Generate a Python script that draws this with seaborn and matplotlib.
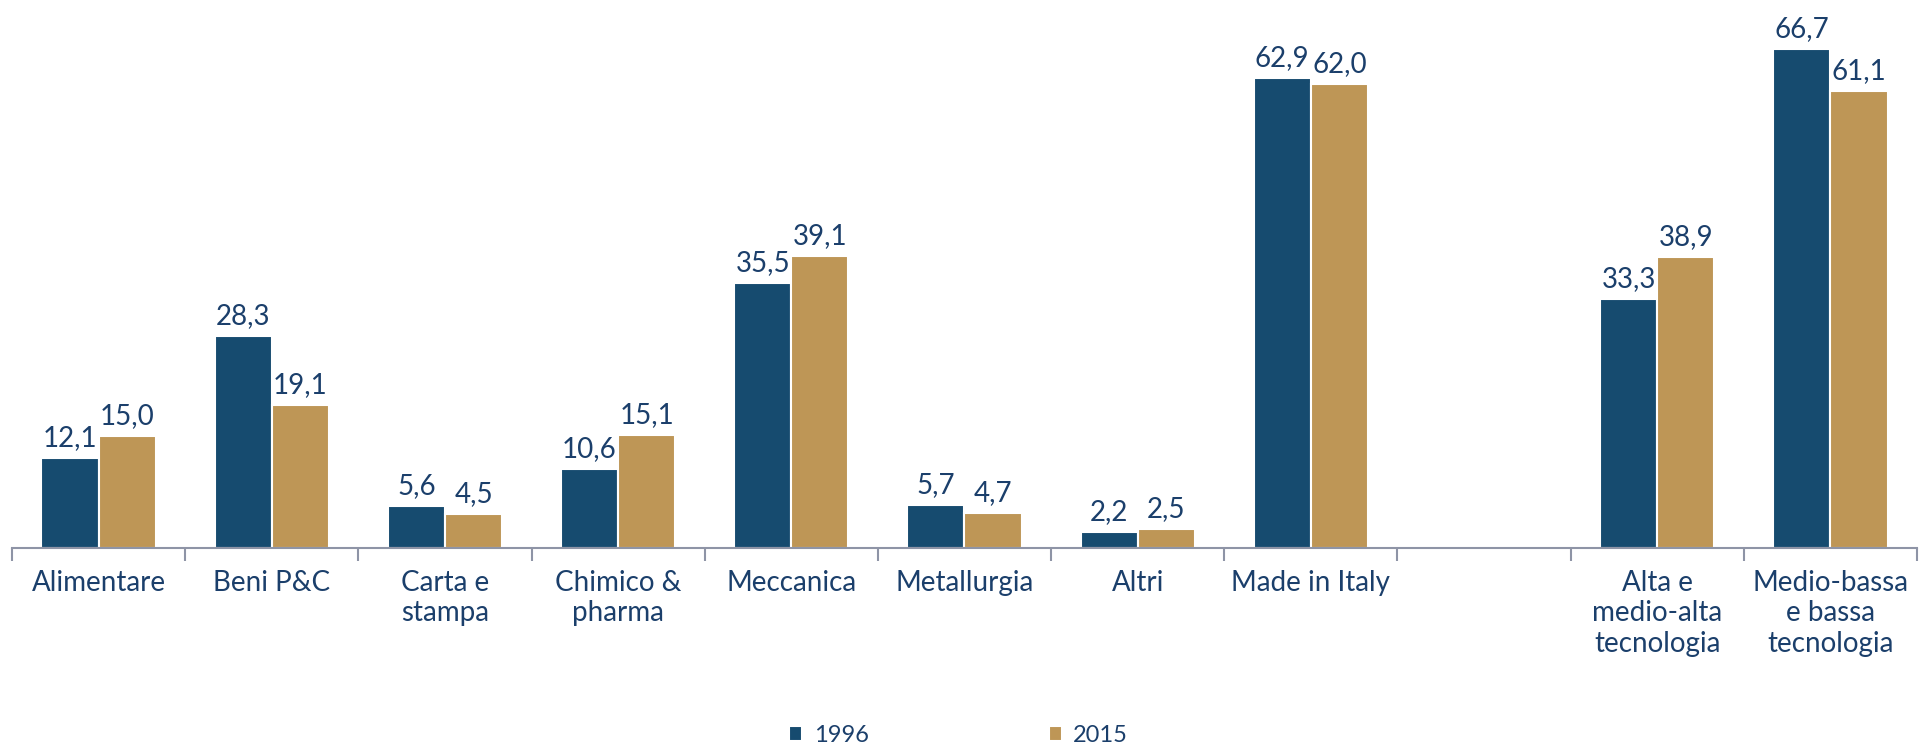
import pandas as pd
import matplotlib.pyplot as plt
import seaborn as sns

categories = ["Alimentare", "Beni P&C", "Carta e\nstampa", "Chimico &\npharma",
              "Meccanica", "Metallurgia", "Altri", "Made in Italy", " ",
              "Alta e\nmedio-alta\ntecnologia", "Medio-bassa\ne bassa\ntecnologia"]
values_1996 = [12.1, 28.3, 5.6, 10.6, 35.5, 5.7, 2.2, 62.9, None, 33.3, 66.7]
values_2015 = [15.0, 19.1, 4.5, 15.1, 39.1, 4.7, 2.5, 62.0, None, 38.9, 61.1]
years = ["1996", "2015"]

BLUE = "#164b6f"
GOLD = "#be9656"
TEXT = "#1b3f6b"
AXIS = "#8e94a6"
FS = 20

rows = []
for cat, a, b in zip(categories, values_1996, values_2015):
    if a is not None:
        rows.append({"cat": cat, "anno": years[0], "val": a})
        rows.append({"cat": cat, "anno": years[1], "val": b})
df = pd.DataFrame(rows)

sns.set_style("white")
plt.rcParams["font.family"] = ["Lato", "DejaVu Sans"]

fig = plt.figure(figsize=(19.33, 7.45), dpi=100)
ax = fig.add_axes([12 / 1933, (745 - 548) / 745, 1905 / 1933, 548 / 745])

sns.barplot(data=df, x="cat", y="val", hue="anno", order=categories,
            hue_order=years, palette=[BLUE, GOLD], width=0.66,
            edgecolor="white", linewidth=1.5, saturation=1, ax=ax)

for cont in ax.containers:
    labels = [f"{v:.1f}".replace(".", ",") for v in cont.datavalues]
    ax.bar_label(cont, labels=labels, padding=5, fontsize=FS, color=TEXT)

ax.set_xlim(-0.5, len(categories) - 0.5)
ax.set_ylim(0, 73.3)
ax.set_xlabel("")
ax.set_ylabel("")
ax.set_yticks([])
for side in ["top", "right", "left"]:
    ax.spines[side].set_visible(False)
ax.spines["bottom"].set_color(AXIS)
ax.spines["bottom"].set_linewidth(1.5)

ax.set_xticks(range(len(categories)))
ax.set_xticklabels(categories, fontsize=FS, color=TEXT, linespacing=1.2, va="top")
ax.tick_params(axis="x", which="major", length=0, pad=16)
ax.set_xticks([i - 0.5 for i in range(len(categories) + 1)], minor=True)
ax.tick_params(axis="x", which="minor", length=9, width=1.5, color=AXIS, bottom=True)

ax.legend(loc="lower center", bbox_to_anchor=(0.497, -0.40), ncol=2, frameon=False,
          fontsize=17, labelcolor=TEXT, handlelength=0.55, handleheight=0.55,
          handletextpad=0.5, columnspacing=7.6)

fig.savefig("out.png", dpi=100)
